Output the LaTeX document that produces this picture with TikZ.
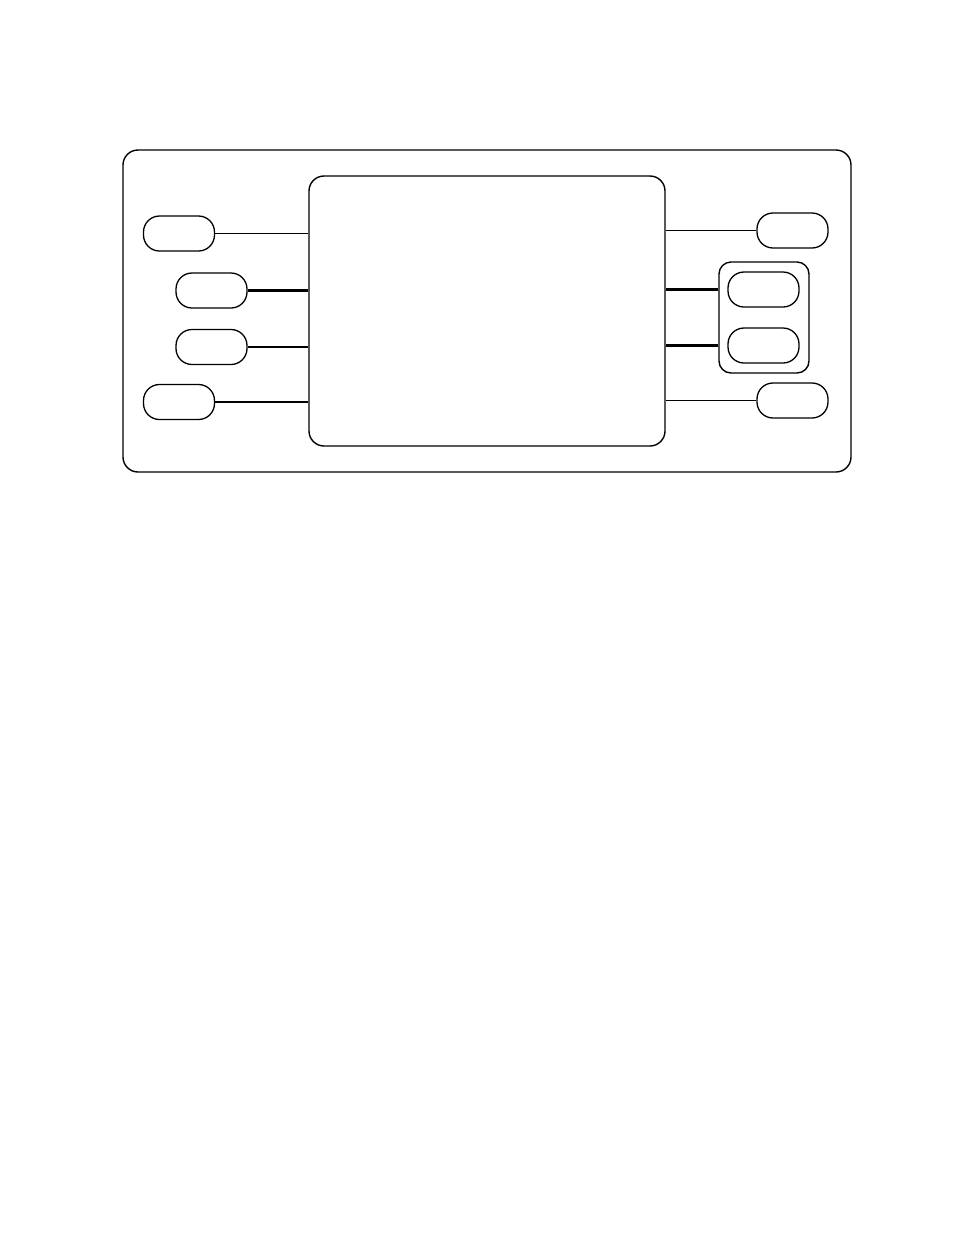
\documentclass[tikz,border=0pt]{standalone}
\begin{document}
\begin{tikzpicture}[x=1pt,y=-1pt,
  btn/.style={draw=black,line width=1.3pt,rounded corners=16pt,minimum width=71pt,minimum height=35pt,inner sep=0pt},
  panel/.style={draw=black,line width=1.4pt,rounded corners=15pt,inner sep=0pt},
  thinlink/.style={draw=black,line width=1pt},
  thicklink/.style={draw=black,line width=2.2pt}]
\useasboundingbox (0,0) rectangle (954,1235);
\node[panel,minimum width=728pt,minimum height=322pt] (outer) at (487,311) {};
\node[panel,minimum width=356pt,minimum height=270pt] (screen) at (487,311) {};
\node[btn] (L1) at (179,233.5) {};
\node[btn] (L2) at (211.5,290.5) {};
\node[btn] (L3) at (211.5,347) {};
\node[btn] (L4) at (179,402) {};
\node[btn] (R1) at (792.5,230.5) {};
\node[panel,rounded corners=12pt,minimum width=90pt,minimum height=111pt] (grp) at (764,317.5) {};
\node[btn] (R2) at (763.5,289.5) {};
\node[btn] (R3) at (763.5,345.5) {};
\node[btn] (R4) at (792.5,400.5) {};
\draw[thinlink] (L1.east) -- (L1.east -| screen.west);
\draw[thicklink] (L2.east) -- (L2.east -| screen.west);
\draw[thicklink] (L3.east) -- (L3.east -| screen.west);
\draw[thicklink] (L4.east) -- (L4.east -| screen.west);
\draw[thinlink] (R1.west) -- (R1.west -| screen.east);
\draw[thicklink] (R2.west -| grp.west) -- (R2.west -| screen.east);
\draw[thicklink] (R3.west -| grp.west) -- (R3.west -| screen.east);
\draw[thinlink] (R4.west) -- (R4.west -| screen.east);
\end{tikzpicture}
\end{document}
